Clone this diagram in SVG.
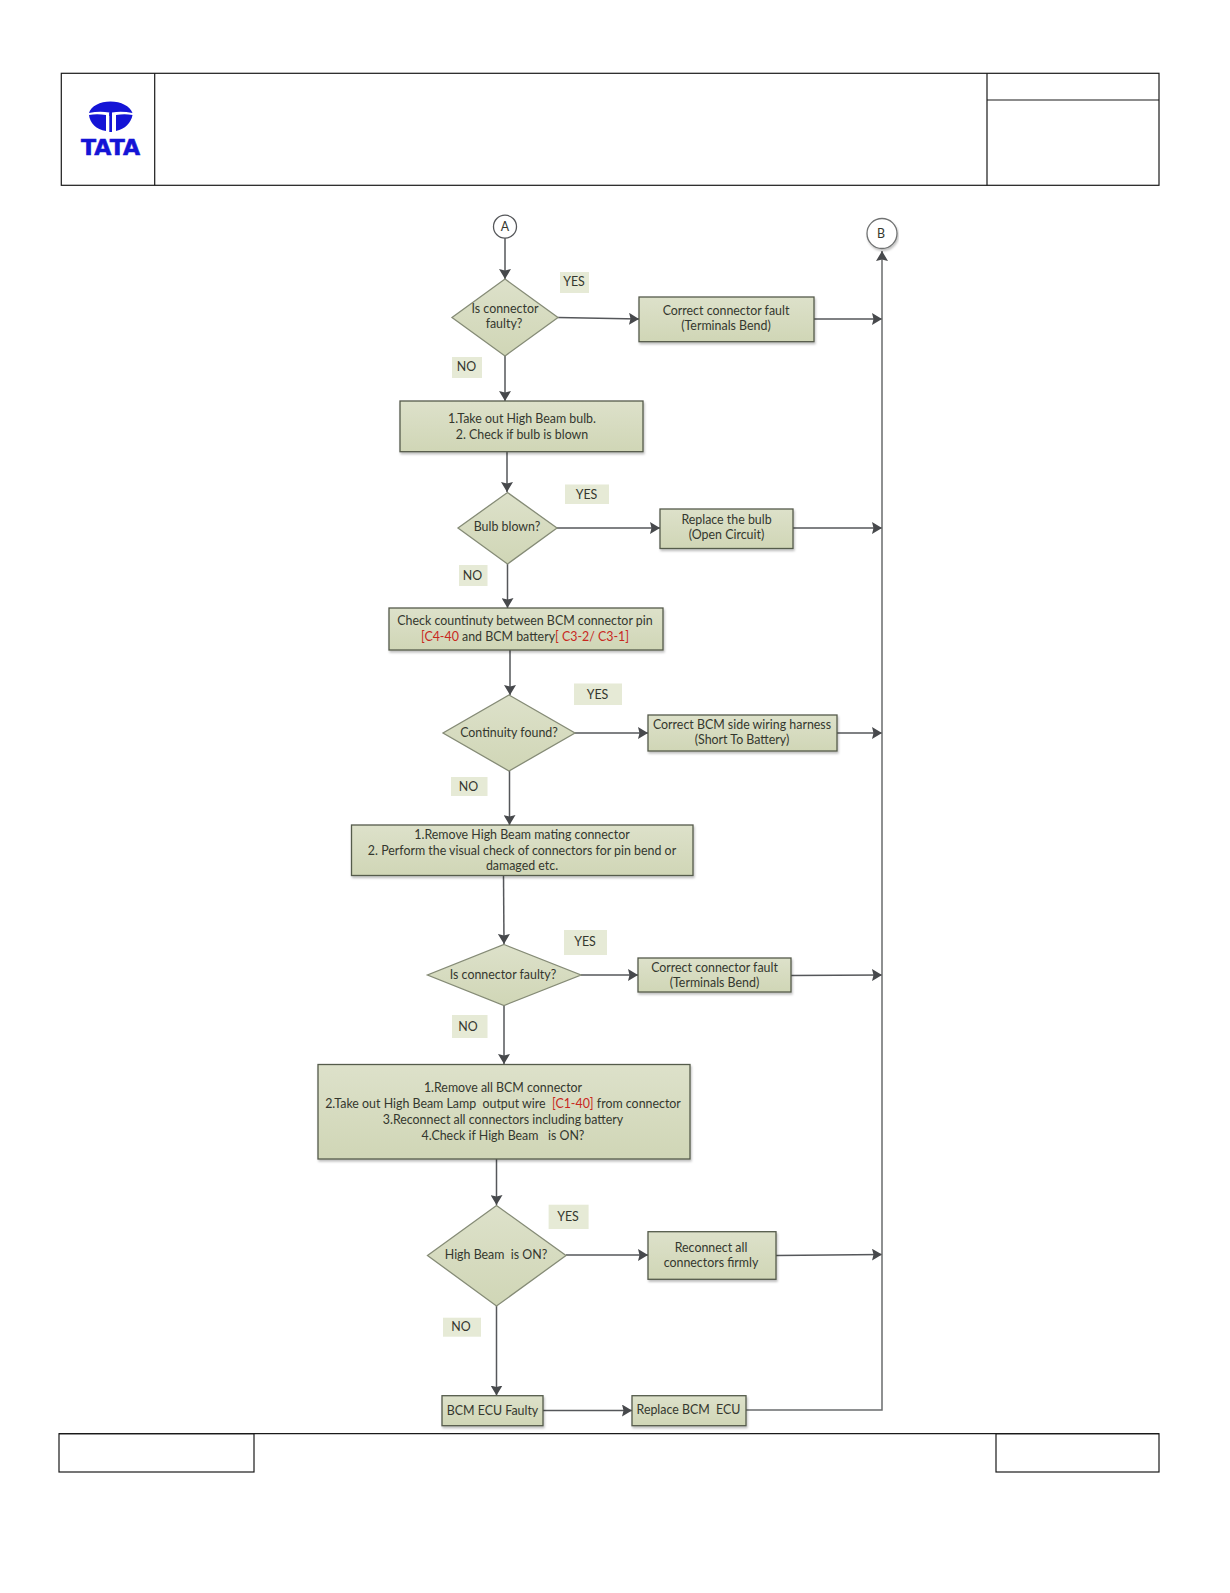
<svg xmlns="http://www.w3.org/2000/svg" width="1230" height="1593" viewBox="0 0 1230 1593">
<style>
.frame{fill:none;stroke:#1a1a1a;stroke-width:1.2}
.box{fill:url(#g);stroke:#555b4b;stroke-width:1.3;filter:url(#s)}
.dia{fill:url(#g);stroke:#858b76;stroke-width:1.3}
.lab{fill:#e6ead6}
.c{fill:none;stroke:#55575a;stroke-width:1.5;marker-end:url(#a)}
.p{fill:none;stroke:#6a6c6e;stroke-width:1.5;marker-end:url(#a)}
text{font-family:Lato,"Open Sans","Liberation Sans",sans-serif;font-size:12.4px;fill:#34372e;text-anchor:middle;white-space:pre}
.r{fill:#c8281e}
</style>
<defs>
<linearGradient id="g" x1="0" y1="0" x2="0" y2="1"><stop offset="0" stop-color="#dde1ca"/><stop offset="1" stop-color="#d0d6b6"/></linearGradient>
<filter id="s" x="-5%" y="-10%" width="110%" height="125%"><feDropShadow dx="1" dy="2" stdDeviation="1.2" flood-color="#000" flood-opacity=".25"/></filter>
<marker id="a" markerUnits="userSpaceOnUse" markerWidth="11" markerHeight="12" refX="10" refY="6" orient="auto"><path d="M0,0L10,6L0,12L1.500,6z" fill="#47494c"/></marker>
</defs>
<g id="header">
<rect class="frame" x="61.3" y="73.3" width="1097.7" height="112"/>
<path class="frame" d="M154.7,73.3V185.3M987,73.3V185.3M987,100H1159"/>
<g id="logo" fill="#1414d6">
<path d="M89,113C91,106 100,101.500 110.500,101.500C121,101.500 130,106 132.500,113C125,111.500 118,111.500 112,112.500V116H109.300V112.500C103,111.500 96,111.500 89,113z"/>
<path d="M89,115C94,114 100,114 106,115V131C96,129.500 90,123 89,115z"/>
<path d="M116,115C122,114 127,114 132.500,115C131,123 125,129 116,131z"/>
<rect x="109.300" y="113" width="2.700" height="19"/>
<text x="110.500" y="155" textLength="59" lengthAdjust="spacingAndGlyphs" style="font-family:'DejaVu Sans',sans-serif;font-weight:bold;font-size:21px;fill:#1414d6;stroke:#1414d6;stroke-width:.6">TATA</text>
</g>
</g>
<g id="footer">
<path class="frame" d="M59,1433.700H1159"/>
<rect class="frame" x="59" y="1433.700" width="195" height="38.300"/>
<rect class="frame" x="996" y="1433.700" width="163" height="38.300"/>
</g>
<g id="connectors">
<path class="c" d="M505,238V279"/>
<path class="c" d="M558,317.500L639,319"/>
<path class="c" d="M814,319H882"/>
<path class="c" d="M505,356V401"/>
<path class="c" d="M507,452V492"/>
<path class="c" d="M556,528H660"/>
<path class="c" d="M793,528H882"/>
<path class="c" d="M507.500,564V608"/>
<path class="c" d="M510,650V695"/>
<path class="c" d="M575,733H648"/>
<path class="c" d="M837,733H882"/>
<path class="c" d="M509.500,771V825"/>
<path class="c" d="M503.500,875L504,944"/>
<path class="c" d="M581,975H638"/>
<path class="c" d="M791,975.500L882,975"/>
<path class="c" d="M504,1005V1064"/>
<path class="c" d="M496.500,1159V1205"/>
<path class="c" d="M566,1255H648"/>
<path class="c" d="M776,1255.500L882,1254.500"/>
<path class="c" d="M496.500,1306V1395.500"/>
<path class="c" d="M543,1410.500H632"/>
<path class="p" d="M746,1410H882V251"/>
</g>
<g id="A"><circle cx="505" cy="226.700" r="11.500" fill="#fff" stroke="#55575a" stroke-width="1.300"/><text x="505" y="231">A</text></g>
<g id="B"><circle cx="882" cy="233.500" r="15" fill="#fff" stroke="#707272" stroke-width="1.300" filter="url(#s)"/><text x="881" y="238">B</text></g>
<g id="d1"><path class="dia" d="M505,279L558,317.500L505,356L452,317.500z"/><text x="505" y="313">Is connector</text><text x="504" y="328">faulty?</text></g>
<g id="n1"><rect class="box" x="639" y="297" width="175" height="44.700"/><text x="726" y="315">Correct connector fault</text><text x="726" y="330">(Terminals Bend)</text></g>
<g id="n2"><rect class="box" x="400" y="401" width="243" height="50.700"/><text x="522" y="422.500">1.Take out High Beam bulb.</text><text x="522" y="438.500">2. Check if bulb is blown</text></g>
<g id="d2"><path class="dia" d="M507.500,492.500L557,528L507.500,564L458,528z"/><text x="507" y="531">Bulb blown?</text></g>
<g id="n3"><rect class="box" x="660" y="509" width="133" height="39.500"/><text x="726.500" y="523.500">Replace the bulb</text><text x="726.500" y="539">(Open Circuit)</text></g>
<g id="n4"><rect class="box" x="389" y="608" width="274" height="42"/><text x="525" y="624.500">Check countinuty between BCM connector pin</text><text x="525" y="640.500"><tspan class="r">[C4-40 </tspan>and BCM battery<tspan class="r">[ C3-2/ C3-1]</tspan></text></g>
<g id="d3"><path class="dia" d="M509,695L575,733L509,771L443,733z"/><text x="509" y="736.500">Continuity found?</text></g>
<g id="n5"><rect class="box" x="648" y="715" width="189" height="36"/><text x="742" y="729">Correct BCM side wiring harness</text><text x="742" y="744">(Short To Battery)</text></g>
<g id="n6"><rect class="box" x="351.500" y="825" width="341.500" height="50.500"/><text x="522" y="838.500">1.Remove High Beam mating connector</text><text x="522" y="854.500">2. Perform the visual check of connectors for pin bend or</text><text x="522" y="870">damaged etc.</text></g>
<g id="d4"><path class="dia" d="M504,944.500L581,975L504,1005.500L427.500,975z"/><text x="503" y="978.500">Is connector faulty?</text></g>
<g id="n7"><rect class="box" x="638" y="958" width="153" height="34"/><text x="714.500" y="971.500">Correct connector fault</text><text x="714.500" y="986.500">(Terminals Bend)</text></g>
<g id="n8"><rect class="box" x="318" y="1064.500" width="372" height="94.500"/><text x="503" y="1092">1.Remove all BCM connector</text><text x="503" y="1108">2.Take out High Beam Lamp  output wire  <tspan class="r">[C1-40]</tspan> from connector</text><text x="503" y="1124">3.Reconnect all connectors including battery</text><text x="503" y="1140">4.Check if High Beam   is ON?</text></g>
<g id="d5"><path class="dia" d="M496.500,1205.500L566,1255.500L496.500,1306L427.500,1255.500z"/><text x="496" y="1258.500">High Beam  is ON?</text></g>
<g id="n9"><rect class="box" x="648" y="1231.700" width="128" height="47.600"/><text x="711" y="1251.500">Reconnect all</text><text x="711" y="1266.500">connectors firmly</text></g>
<g id="n10"><rect class="box" x="442" y="1395.700" width="101" height="30"/><text x="492.500" y="1414.500">BCM ECU Faulty</text></g>
<g id="n11"><rect class="box" x="632" y="1395.700" width="114" height="30"/><text x="688.500" y="1414">Replace BCM  ECU</text></g>
<g id="labels">
<rect class="lab" x="560" y="272" width="29" height="21"/><text x="574" y="286">YES</text>
<rect class="lab" x="452" y="357" width="30" height="21"/><text x="466.500" y="371">NO</text>
<rect class="lab" x="565" y="484.500" width="44" height="19.500"/><text x="586.500" y="498.500">YES</text>
<rect class="lab" x="459" y="565" width="28.500" height="21"/><text x="472.500" y="579.500">NO</text>
<rect class="lab" x="574" y="683.500" width="48" height="21.500"/><text x="597.500" y="698.500">YES</text>
<rect class="lab" x="451" y="777" width="36.500" height="19"/><text x="468.500" y="790.500">NO</text>
<rect class="lab" x="564" y="930" width="43" height="25"/><text x="585" y="946">YES</text>
<rect class="lab" x="452" y="1015" width="35.500" height="23"/><text x="468" y="1031">NO</text>
<rect class="lab" x="548.600" y="1204.700" width="40" height="24.300"/><text x="568" y="1220.500">YES</text>
<rect class="lab" x="443" y="1317.700" width="38" height="19"/><text x="461" y="1330.500">NO</text>
</g>
</svg>
